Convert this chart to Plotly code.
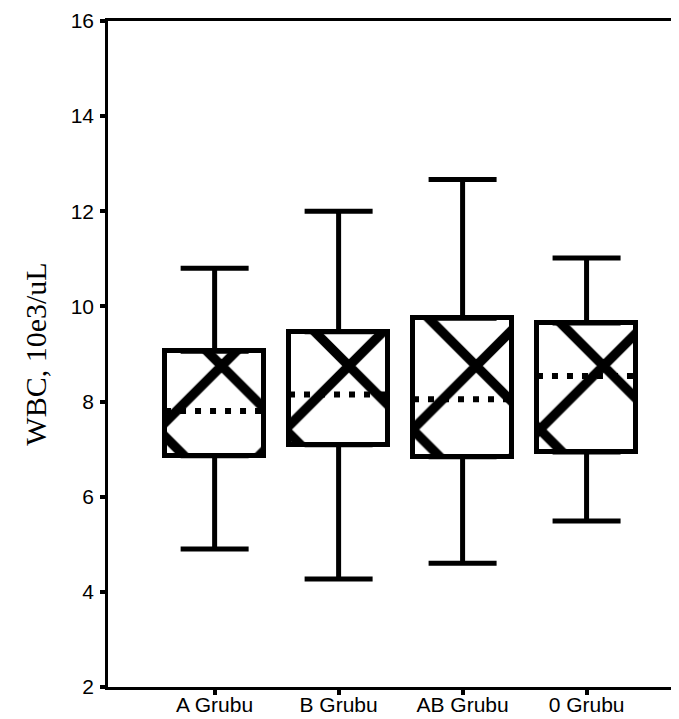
import plotly.graph_objects as go

groups = ["A Grubu", "B Grubu", "AB Grubu", "0 Grubu"]
wmin = [4.9, 4.27, 4.6, 5.49]
q1 = [6.86, 7.09, 6.84, 6.94]
median = [7.8, 8.15, 8.05, 8.54]
q3 = [9.06, 9.47, 9.75, 9.65]
wmax = [10.8, 12.0, 12.67, 11.02]

box_w = 0.8
xs = list(range(len(groups)))

fig = go.Figure()

# boxes (diagonal fill like the SPSS original)
fig.add_trace(go.Bar(
    x=xs, y=[b - a for a, b in zip(q1, q3)], base=q1, width=box_w,
    marker=dict(color="white", line=dict(color="black", width=5),
                pattern=dict(shape="x", size=90, solidity=0.2, fgcolor="black",
                             fgopacity=1, bgcolor="white", fillmode="overlay")),
    showlegend=False, hoverinfo="skip"))

# upper whiskers
fig.add_trace(go.Scatter(
    x=xs, y=q3, mode="markers", marker=dict(size=0.1, color="black"),
    error_y=dict(type="data", symmetric=False,
                 array=[b - a for a, b in zip(q3, wmax)],
                 arrayminus=[0] * len(xs), color="black", thickness=5, width=34),
    showlegend=False, hoverinfo="skip"))

# lower whiskers
fig.add_trace(go.Scatter(
    x=xs, y=q1, mode="markers", marker=dict(size=0.1, color="black"),
    error_y=dict(type="data", symmetric=False,
                 array=[0] * len(xs),
                 arrayminus=[a - b for a, b in zip(q1, wmin)],
                 color="black", thickness=5, width=34),
    showlegend=False, hoverinfo="skip"))

# medians (dotted)
for i, m in zip(xs, median):
    fig.add_trace(go.Scatter(
        x=[i - box_w / 2, i + box_w / 2], y=[m, m], mode="lines",
        line=dict(color="black", width=6, dash="6px,9px"),
        showlegend=False, hoverinfo="skip"))

fig.update_layout(
    width=679, height=719,
    margin=dict(l=100, r=0, t=13, b=40),
    paper_bgcolor="white", plot_bgcolor="white",
    font=dict(family="Liberation Sans, Arial, sans-serif", size=20, color="black"),
    xaxis=dict(range=[-0.86, 3.81], tickmode="array", tickvals=xs, ticktext=groups,
               showgrid=False, zeroline=False, showline=True, linecolor="black",
               linewidth=2.5, mirror=True, ticks="outside", ticklen=5, tickwidth=4,
               tickcolor="black", tickfont=dict(size=21), ticklabelstandoff=-8),
    yaxis=dict(range=[2, 16], dtick=2, showgrid=False, zeroline=False,
               showline=True, linecolor="black", linewidth=2.5,
               ticks="outside", ticklen=5, tickwidth=4, tickcolor="black",
               tickfont=dict(size=21), ticklabelstandoff=2,
               title=dict(text="WBC, 10e3/uL", standoff=16,
                          font=dict(family="Liberation Serif, Times New Roman, serif",
                                    size=30))),
    bargap=0,
)

# align the phase of the fill pattern so the diagonal crossings sit near the box centres
post = """
var gd = document.getElementById('{plot_id}');
function fixPattern(){
  var fl = gd._fullLayout; if(!fl) return;
  var cx = fl.xaxis.l2p(0) + 7, cy = fl.yaxis.l2p(8.75);
  gd.querySelectorAll('pattern').forEach(function(p){
    var w = parseFloat(p.getAttribute('width')), h = parseFloat(p.getAttribute('height'));
    p.setAttribute('x', (((cx - w/2) % w) + w) % w);
    p.setAttribute('y', (((cy - h/2) % h) + h) % h);
  });
}
fixPattern(); setTimeout(fixPattern, 0);
if (gd.on) gd.on('plotly_afterplot', fixPattern);
"""

fig.write_html("out.html", post_script=post)
